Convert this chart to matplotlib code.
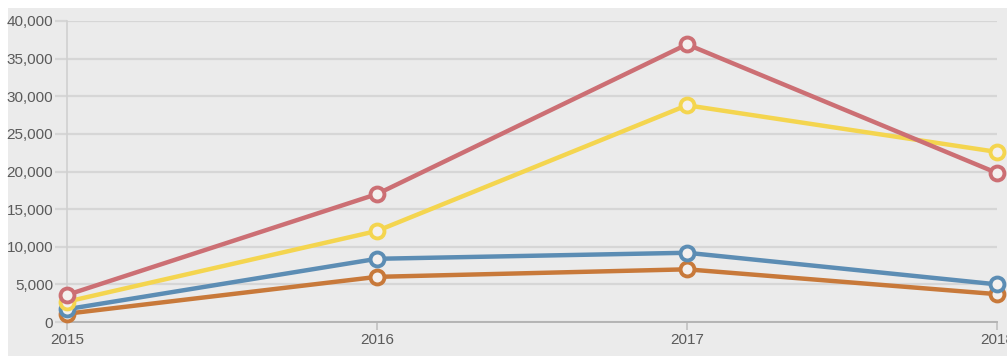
import matplotlib.pyplot as plt
from matplotlib.patches import Rectangle
from matplotlib.ticker import FuncFormatter

years = [2015, 2016, 2017, 2018]
red = [3600, 17000, 36900, 19800]
yellow = [2700, 12100, 28800, 22600]
blue = [1700, 8400, 9200, 5000]
orange = [1100, 6000, 7000, 3700]

series = [
    (orange, "#c8793a"),
    (blue, "#5c8db4"),
    (yellow, "#f4d54f"),
    (red, "#cc6f74"),
]

plt.rcParams['font.family'] = ['Liberation Sans Narrow', 'Liberation Sans', 'DejaVu Sans']

W, H = 1007, 356
fig = plt.figure(figsize=(W / 100, H / 100), dpi=100, facecolor="white")
fig.patches.append(Rectangle((8 / W, 0), 1 - 8 / W, 1 - 8 / H, transform=fig.transFigure,
                             facecolor="#ebebeb", edgecolor="none", zorder=-10))

ax = fig.add_axes([67 / W, 34 / H, 930 / W, 301 / H])
ax.set_facecolor("none")

for vals, col in series:
    ax.plot(years, vals, color=col, lw=3.2, marker="o", ms=10, mew=2.8,
            mfc="#f4f0ee", mec=col, clip_on=False, zorder=3)

ax.set_xlim(2015, 2018)
ax.set_ylim(0, 40000)
ax.set_xticks(years)
ax.set_yticks(range(0, 40001, 5000))
ax.yaxis.set_major_formatter(FuncFormatter(lambda v, p: f"{int(v):,}"))
ax.grid(axis="y", color="#d6d6d6", lw=1.6)
ax.set_axisbelow(True)

for s in ["top", "right"]:
    ax.spines[s].set_visible(False)
ax.spines["left"].set_color("#d0d0d0")
ax.spines["left"].set_linewidth(1.2)
ax.spines["bottom"].set_color("#b4b4b4")
ax.spines["bottom"].set_linewidth(1.4)

ax.tick_params(axis="y", length=9, width=1.6, color="#d6d6d6", pad=1,
               labelsize=11, labelcolor="#5a5a5a")
ax.tick_params(axis="x", length=6, width=1.2, color="#c0c0c0", pad=2,
               labelsize=11, labelcolor="#5a5a5a")

fig.savefig("out.png", dpi=100, facecolor=fig.get_facecolor())
